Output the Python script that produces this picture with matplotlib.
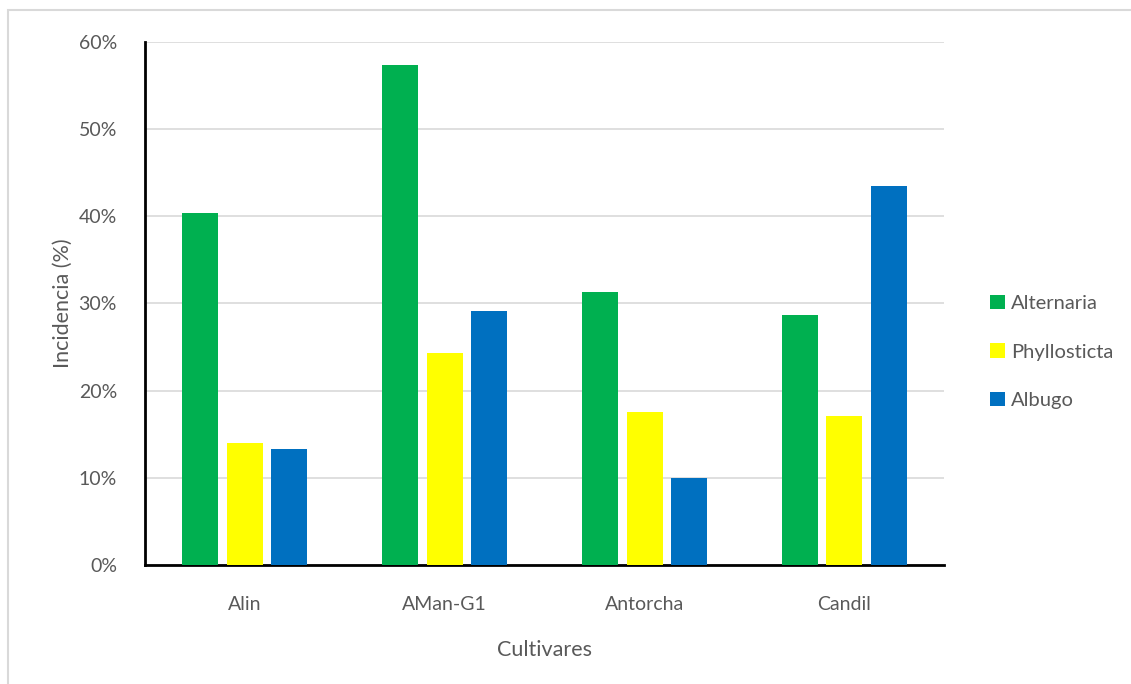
import matplotlib.pyplot as plt
import numpy as np
from matplotlib.patches import Rectangle
from matplotlib.ticker import PercentFormatter

plt.rcParams['font.family'] = ['Lato', 'DejaVu Sans']

cultivares = ['Alin', 'AMan-G1', 'Antorcha', 'Candil']
alternaria = [40.4, 57.3, 31.3, 28.7]
phyllosticta = [14.0, 24.3, 17.5, 17.1]
albugo = [13.3, 29.1, 10.0, 43.5]

series = [('Alternaria', alternaria, '#00B050'),
          ('Phyllosticta', phyllosticta, '#FFFF00'),
          ('Albugo', albugo, '#0070C0')]

fig = plt.figure(figsize=(11.31, 6.84), dpi=100)
ax = fig.add_axes([0.128, 0.174, 0.707, 0.765])

# marco gris alrededor del grafico
fig.patches.append(Rectangle((8 / 1131, -0.01), 1.1, 1 - 10 / 684 + 0.01,
                             transform=fig.transFigure, fill=False,
                             edgecolor='#d9d9d9', linewidth=1.5))

x = np.arange(len(cultivares))
ancho = 0.18
sep = 0.222
for i, (nombre, valores, color) in enumerate(series):
    ax.bar(x + (i - 1) * sep, valores, width=ancho, color=color, label=nombre,
           zorder=3)

ax.set_xlim(-0.5, 3.5)
ax.set_ylim(0, 60)
ax.set_yticks(range(0, 61, 10))
ax.yaxis.set_major_formatter(PercentFormatter(decimals=0))
ax.set_xticks(x)
ax.set_xticklabels(cultivares)
ax.grid(axis='y', color='#d9d9d9', linewidth=1.2, zorder=0)
ax.tick_params(length=0, labelsize=14, labelcolor='#595959')
ax.tick_params(axis='x', pad=22)
ax.tick_params(axis='y', pad=20)

for lado in ['top', 'right']:
    ax.spines[lado].set_visible(False)
for lado in ['left', 'bottom']:
    ax.spines[lado].set_linewidth(2)
    ax.spines[lado].set_color('black')

ax.set_xlabel('Cultivares', fontsize=15.5, color='#595959', labelpad=20)
ax.set_ylabel('Incidencia (%)', fontsize=15.5, color='#595959', labelpad=4)

ax.legend(loc='center left', bbox_to_anchor=(1.035, 0.407), frameon=False,
          fontsize=14.5, labelcolor='#595959', handlelength=0.7,
          handleheight=0.7, handletextpad=0.3, labelspacing=1.55)

plt.savefig('out.png', dpi=100)
